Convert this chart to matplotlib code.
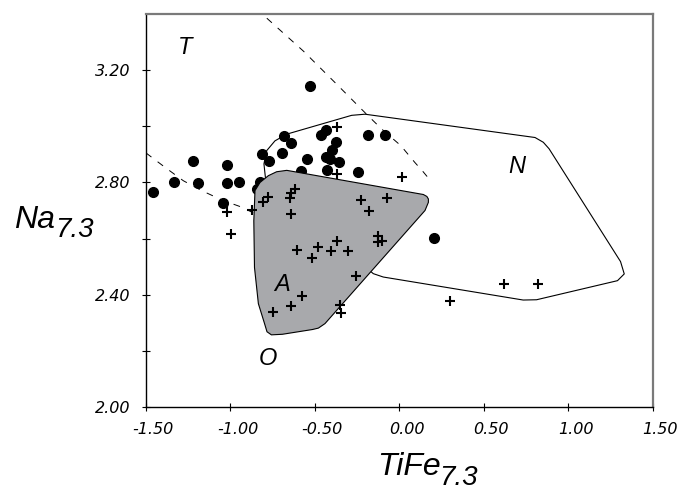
import matplotlib
matplotlib.use("Agg")
import matplotlib.pyplot as plt
from matplotlib.patches import Polygon
from matplotlib.transforms import ScaledTranslation

# === Campioni (cerchi pieni) ===
circle_x = [-0.532, -1.460, -1.335, -1.222, -1.193, -1.023, -1.023, -0.948, -1.047, -0.827,
            -0.841, -0.812, -0.772, -0.698, -0.683, -0.640, -0.548, -0.583, -0.467, -0.437,
            -0.375, -0.402, -0.433, -0.414, -0.360, -0.431, -0.244, -0.184, -0.084, 0.202]
circle_y = [3.143, 2.767, 2.802, 2.875, 2.797, 2.861, 2.797, 2.802, 2.727, 2.802,
            2.777, 2.901, 2.875, 2.906, 2.966, 2.940, 2.882, 2.839, 2.970, 2.987,
            2.945, 2.916, 2.892, 2.882, 2.871, 2.843, 2.837, 2.970, 2.970, 2.602]

# === Campioni (croci) ===
cross_x = [-0.367, -0.367, 0.012, -1.022, -0.998, -0.871, -0.806, -0.781, -0.645, -0.640,
           -0.617, -0.641, -0.230, -0.072, -0.183, -0.371, -0.485, -0.404, -0.302, -0.608,
           -0.518, -0.130, -0.130, -0.105, -0.259, -0.575, -0.641, -0.748, -0.351, -0.344,
           0.300, 0.620, 0.817]
cross_y = [2.997, 2.831, 2.821, 2.696, 2.618, 2.701, 2.730, 2.747, 2.746, 2.761,
           2.776, 2.688, 2.738, 2.743, 2.697, 2.590, 2.569, 2.554, 2.554, 2.558,
           2.529, 2.609, 2.589, 2.593, 2.468, 2.394, 2.359, 2.339, 2.365, 2.334,
           2.379, 2.438, 2.438]

# === Campo A (grigio) ===
field_A_x = [-0.727, -0.667, 0.141, 0.162, 0.171, 0.171, 0.151, -0.441, -0.480, -0.515,
             -0.693, -0.758, -0.784, -0.800, -0.835, -0.858, -0.862, -0.855, -0.825, -0.776]
field_A_y = [2.838, 2.843, 2.757, 2.750, 2.741, 2.729, 2.700, 2.297, 2.281, 2.276,
             2.259, 2.257, 2.268, 2.300, 2.368, 2.497, 2.663, 2.771, 2.800, 2.824]

# === Campo N (contorno) ===
field_N_x = [-0.790, -0.155, -0.096, 0.732, 0.811, 1.290, 1.330, 1.308, 0.885, 0.851,
             0.802, -0.204, -0.283, -0.667, -0.737, -0.786, -0.802, -0.796]
field_N_y = [2.800, 2.475, 2.463, 2.381, 2.382, 2.450, 2.474, 2.518, 2.920, 2.943,
             2.960, 3.043, 3.039, 2.972, 2.948, 2.913, 2.866, 2.832]

# === Limiti tratteggiati ===
dash_TN_x = [-0.785, -0.569, -0.372, -0.195, -0.105, 0.008, 0.091, 0.140, 0.162, 0.167, 0.168]
dash_TN_y = [3.385, 3.268, 3.150, 3.043, 2.990, 2.931, 2.871, 2.838, 2.822, 2.812, 2.800]
dash_TO_x = [-1.500, -1.388, -1.279, -1.171, -1.050, -0.934, -0.860]
dash_TO_y = [2.905, 2.854, 2.806, 2.771, 2.737, 2.712, 2.690]

# etichette dei campi
field_labels = ["T", "N", "A", "O"]
field_label_x = [-1.266, 0.694, -0.697, -0.778]
field_label_y = [3.282, 2.856, 2.436, 2.174]

plt.rcParams["axes.unicode_minus"] = False

fig = plt.figure(figsize=(6.88, 4.91), dpi=100)
ax = fig.add_axes([0.2122, 0.1711, 0.7369, 0.8004])

ax.plot(field_N_x + field_N_x[:1], field_N_y + field_N_y[:1],
        color="black", lw=0.8, zorder=1)
ax.plot(dash_TN_x, dash_TN_y, color="black", lw=0.7, ls=(0, (7, 8)), zorder=1)
ax.plot(dash_TO_x, dash_TO_y, color="black", lw=0.7, ls=(0, (7, 8)), zorder=1)

ax.plot(circle_x, circle_y, "o", color="black", ms=7, zorder=2)

ax.add_patch(Polygon(list(zip(field_A_x, field_A_y)), closed=True,
                     facecolor="#a8a9ac", edgecolor="black", lw=0.8, zorder=3))

ax.plot(cross_x, cross_y, "+", color="black", ms=6.5, mew=1.5, zorder=4)

for lab, x, y in zip(field_labels, field_label_x, field_label_y):
    ax.text(x, y, lab, ha="center", va="center", fontsize=17,
            family="Liberation Sans", style="italic", zorder=5)

ax.set_xlim(-1.5, 1.5)
ax.set_ylim(2.0, 3.4)
ax.set_xticks([-1.5, -1.0, -0.5, 0.0, 0.5, 1.0, 1.5])
ax.set_yticks([2.0, 2.4, 2.8, 3.2])
ax.set_yticks([2.2, 2.6, 3.0], minor=True)
ax.xaxis.set_major_formatter("{x:.2f}")
ax.yaxis.set_major_formatter("{x:.2f}")
ax.tick_params(which="both", direction="inout", length=6, width=0.8, labelsize=11.5, pad=8)

shift = ScaledTranslation(0.07, 0, fig.dpi_scale_trans)
for lab in ax.get_xticklabels():
    lab.set_fontstyle("italic")
    lab.set_transform(lab.get_transform() + shift)
for lab in ax.get_yticklabels():
    lab.set_fontstyle("italic")

for side in ["left", "bottom"]:
    ax.spines[side].set_color("black")
    ax.spines[side].set_linewidth(1.0)
for side in ["top", "right"]:
    ax.spines[side].set_color("#7a7a7a")
    ax.spines[side].set_linewidth(1.6)

# titoli degli assi con pedice grande
lab_font = dict(family="Liberation Sans", style="italic", va="baseline", ha="left")
fig.text(14 / 688, 1 - 228 / 491, "Na", fontsize=23, **lab_font)
fig.text(55 / 688, 1 - 237 / 491, "7.3", fontsize=20, **lab_font)
fig.text(377 / 688, 1 - 475 / 491, "TiFe", fontsize=23, **lab_font)
fig.text(439 / 688, 1 - 485 / 491, "7.3", fontsize=20, **lab_font)

fig.savefig("out.png", dpi=100)
